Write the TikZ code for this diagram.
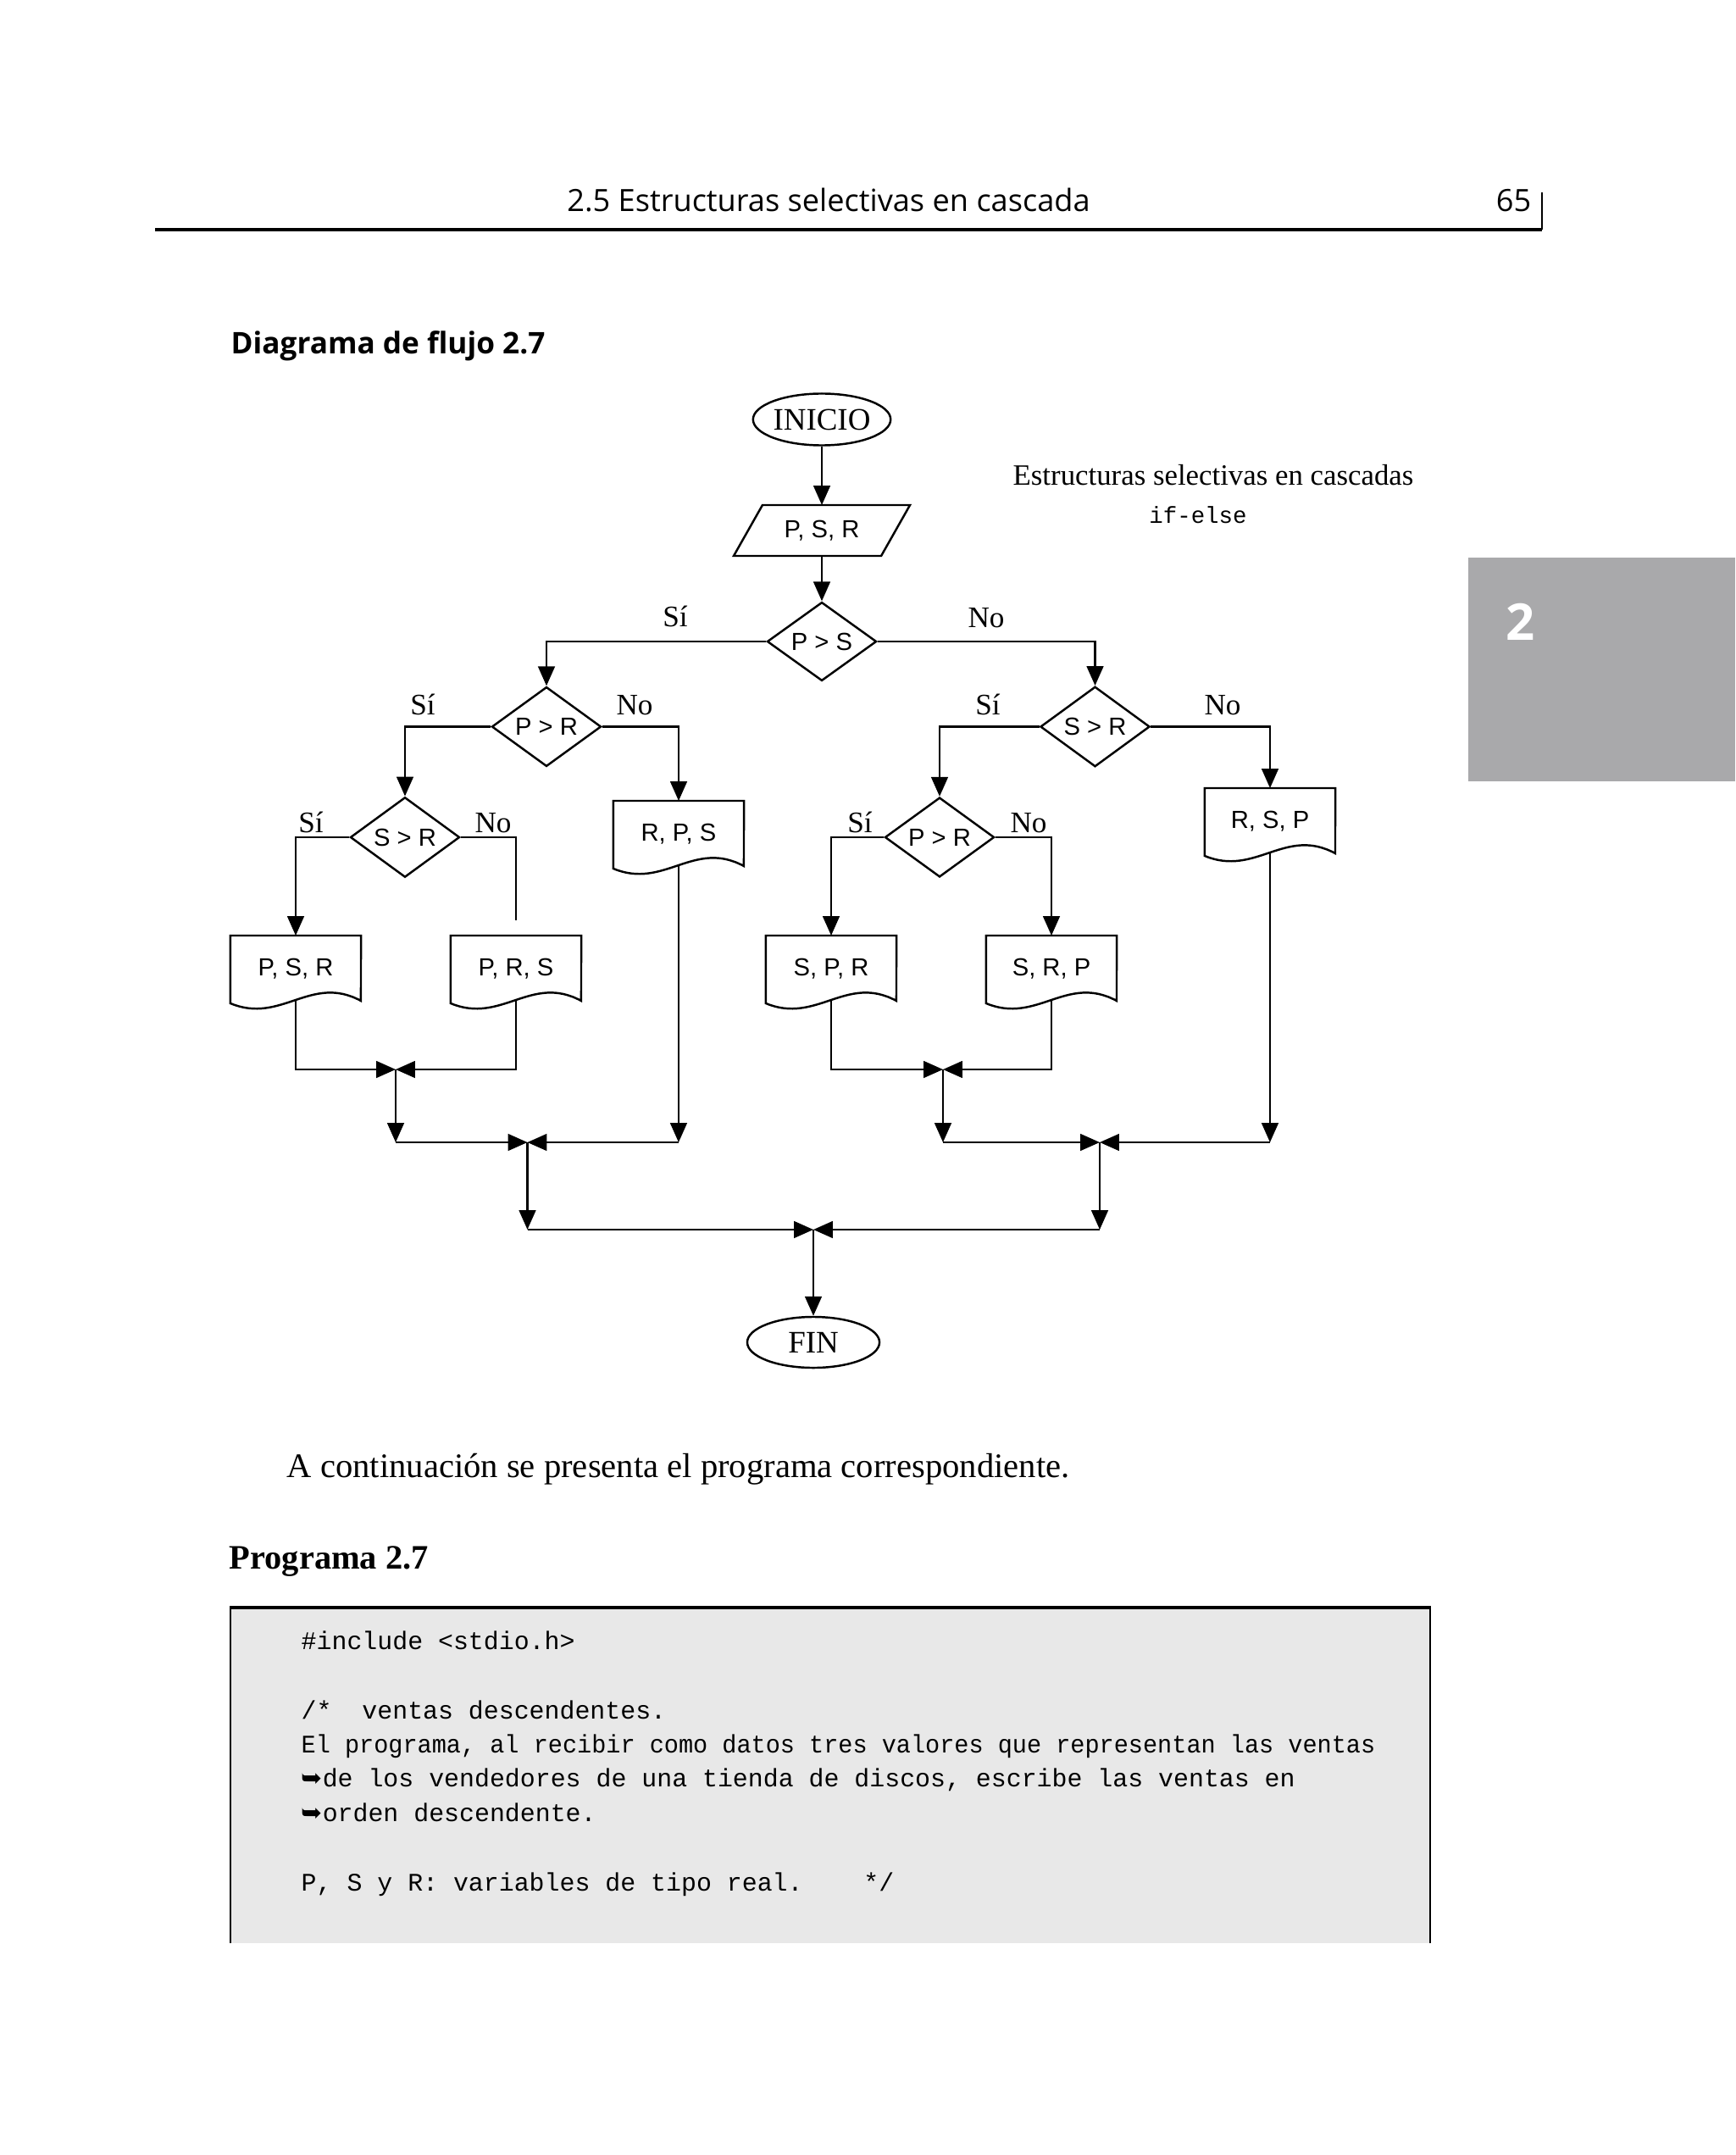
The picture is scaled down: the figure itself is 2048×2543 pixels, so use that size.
\documentclass[tikz,border=0pt]{standalone}
\usepackage{fontspec}
\usepackage{graphicx}
\setmainfont{Liberation Serif}
\setsansfont{Liberation Sans}
\setmonofont{Liberation Mono}
\newfontfamily\headfont{Open Sans}
\newfontfamily\dingfont{DejaVu Sans}
\usetikzlibrary{shapes.geometric,arrows.meta,calc}
\newcommand\fsz[1]{\fontsize{#1}{#1}\selectfont}
\newcommand\docoutline[1]{%
  \draw[shapeline] (#1.north west) -- (#1.north east) -- ($(#1.north west)+(154,77)$)
    .. controls ($(#1.north west)+(95,45)$) and ($(#1.north west)+(60,105)$) .. ($(#1.north west)+(0,80)$) -- cycle;
  \coordinate (#1-b) at ($(#1.north west)+(77,76)$);
}
\newcommand\paroutline[1]{%
  \draw[shapeline] ($(#1.north west)+(17,0)$) -- ($(#1.north east)+(17,0)$) -- ($(#1.south east)+(-17,0)$) -- ($(#1.south west)+(-17,0)$) -- cycle;
}
\begin{document}
\begin{tikzpicture}[x=0.01cm,y=-0.01cm,
  shapeline/.style={line width=0.7pt},
  conn/.style={line width=0.65pt},
  arr/.style={conn,-{Triangle[length=6.5pt,width=5.6pt]}},
  nodetext/.style={font=\sffamily\fsz{8.3}},
  dec/.style={diamond, draw, line width=0.7pt, inner sep=0pt, minimum width=12.9mm, minimum height=8.6mm, nodetext},
  term/.style={ellipse, draw, line width=0.7pt, inner sep=0pt, minimum width=15.6mm, minimum height=6.1mm, font=\fsz{10.5}},
  docbox/.style={anchor=north, minimum width=15.4mm, minimum height=7.8mm, inner sep=0pt, outer sep=0pt, nodetext},
  inbox/.style={minimum width=17.4mm, minimum height=6mm, inner sep=0pt, outer sep=0pt, nodetext},
  lab/.style={anchor=base, inner sep=0pt, font=\fsz{10}},
  code/.style={anchor=base west, inner sep=0pt, font=\ttfamily\fsz{8.5}}
]
\useasboundingbox (0,0) rectangle (2048,2543);
\fill[white] (0,0) rectangle (2048,2543);

% header
\node[anchor=base, inner sep=0pt, font=\headfont\fsz{10.28}] (head) at (978,250) {2.5 Estructuras selectivas en cascada};
\node[anchor=base east, inner sep=0pt, font=\headfont\fsz{10.28}] (pnum) at (1808,250) {65};
\draw[line width=1.1pt] (183,271) -- (1820,271);
\draw[line width=0.5pt] (1820,227) -- (1820,271);
\fill[fill={rgb,255:red,169;green,169;blue,171}] (1733,658) rectangle (2048,922);
\node[anchor=base west, inner sep=0pt, text=white, font=\headfont\bfseries\fsz{17}] (chap) at (1777,755) {2};
\node[anchor=base west, inner sep=0pt, font=\headfont\bfseries\fsz{10}] (dtitle) at (272,418) {Diagrama de flujo 2.7};

% flowchart
\node[term] (ini) at (970,495) {INICIO};
\node[inbox] (psrin) at (970,626) {P, S, R};
\paroutline{psrin}
\node[anchor=base, inner sep=0pt, font=\fsz{9.9}] (cap1) at (1432,573) {Estructuras selectivas en cascadas};
\node[anchor=base, inner sep=0pt, font=\ttfamily\fsz{7.8}] (cap2) at (1414,617) {if-else};

\node[dec] (d1) at (970,757) {P > S};
\node[dec] (d2) at (645,857.5) {P > R};
\node[dec] (d3) at (1292.5,857.5) {S > R};
\node[dec] (d4) at (478,988) {S > R};
\node[dec] (d5) at (1109,988) {P > R};

\node[docbox] (rps) at (801,945) {R, P, S}; \docoutline{rps}
\node[docbox] (rsp) at (1499,930) {R, S, P}; \docoutline{rsp}
\node[docbox] (psr) at (349,1104) {P, S, R}; \docoutline{psr}
\node[docbox] (prs) at (609,1104) {P, R, S}; \docoutline{prs}
\node[docbox] (spr) at (981,1104) {S, P, R}; \docoutline{spr}
\node[docbox] (srp) at (1241,1104) {S, R, P}; \docoutline{srp}

\node[term, minimum height=6mm] (fin) at (960,1584) {FIN};

\node[lab] (l1s) at (797,739) {Sí};
\node[lab] (l1n) at (1164,740) {No};
\node[lab] (l2s) at (499,843) {Sí};
\node[lab] (l2n) at (749,843) {No};
\node[lab] (l3s) at (1166,843) {Sí};
\node[lab] (l3n) at (1443,843) {No};
\node[lab] (l4s) at (367,982) {Sí};
\node[lab] (l4n) at (582,982) {No};
\node[lab] (l5s) at (1015,982) {Sí};
\node[lab] (l5n) at (1214,982) {No};

\draw[arr] (ini) -- (psrin);
\draw[arr] (psrin) -- (d1);
\draw[arr] (d1.west) -| (d2.north);
\draw[arr] (d1.east) -| (d3.north);
\draw[arr] (d2.west) -| (d4.north);
\draw[arr] (d2.east) -| (rps.north);
\draw[arr] (d3.west) -| (d5.north);
\draw[arr] (d3.east) -| (rsp.north);
\draw[arr] (d4.west) -| (psr.north);
\coordinate (gap) at ($(prs.north)+(0,-18)$);
\draw[conn] (d4.east) -| (gap);
\draw[arr] (d5.west) -| (spr.north);
\draw[arr] (d5.east) -| (srp.north);

% merges
\coordinate (j1) at (467,1262);
\coordinate (m1) at (467,1348);
\coordinate (j2) at (622.5,1348);
\coordinate (m3) at (622.5,1451);
\coordinate (j3) at (960,1451);
\coordinate (j4) at (1113,1262);
\coordinate (m4) at (1113,1348);
\coordinate (j5) at (1298,1348);
\coordinate (m6) at (1298,1451);

\draw[arr] (psr-b) |- (j1);
\draw[arr] (prs-b) |- (j1);
\draw[arr] (j1) -- (m1);
\draw[arr] (m1) -- (j2);
\draw[arr] (rps-b) -- (rps-b |- j2);
\draw[arr] (rps-b |- j2) -- (j2);
\draw[arr] (j2) -- (m3);
\draw[arr] (m3) -- (j3);

\draw[arr] (spr-b) |- (j4);
\draw[arr] (srp-b) |- (j4);
\draw[arr] (j4) -- (m4);
\draw[arr] (m4) -- (j5);
\draw[arr] (rsp-b) -- (rsp-b |- j5);
\draw[arr] (rsp-b |- j5) -- (j5);
\draw[arr] (j5) -- (m6);
\draw[arr] (m6) -- (j3);
\draw[arr] (j3) -- (fin);

% text below
\node[anchor=base west, inner sep=0pt, font=\fsz{11.55}] (cont) at (338,1743) {A continuación se presenta el programa correspondiente.};
\node[anchor=base west, inner sep=0pt, font=\bfseries\fsz{11.5}] (ptitle) at (270,1851) {Programa 2.7};

% code box
\fill[fill={rgb,255:red,232;green,232;blue,232}] (272,1897) rectangle (1688,2293);
\draw[line width=0.4pt] (272,2293) -- (272,1897);
\draw[line width=0.4pt] (1688,2293) -- (1688,1897);
\draw[line width=1pt] (271,1897) -- (1689,1897);
\node[code] (c1) at (355,1946) {\#include <stdio.h>};
\node[code] (c2) at (355,2028) {/*\ \ ventas descendentes.};
\node[code] (c3) at (355,2068) {\scalebox{0.955}[1]{El programa, al recibir como datos tres valores que representan las ventas}};
\node[code] (c4) at (355,2108.5) {{\dingfont ➥}de los vendedores de una tienda de discos, escribe las ventas en};
\node[code] (c5) at (355,2149) {{\dingfont ➥}orden descendente.};
\node[code] (c6) at (355,2231) {P, S y R: variables de tipo real.\ \ \ \ */};
\end{tikzpicture}
\end{document}
